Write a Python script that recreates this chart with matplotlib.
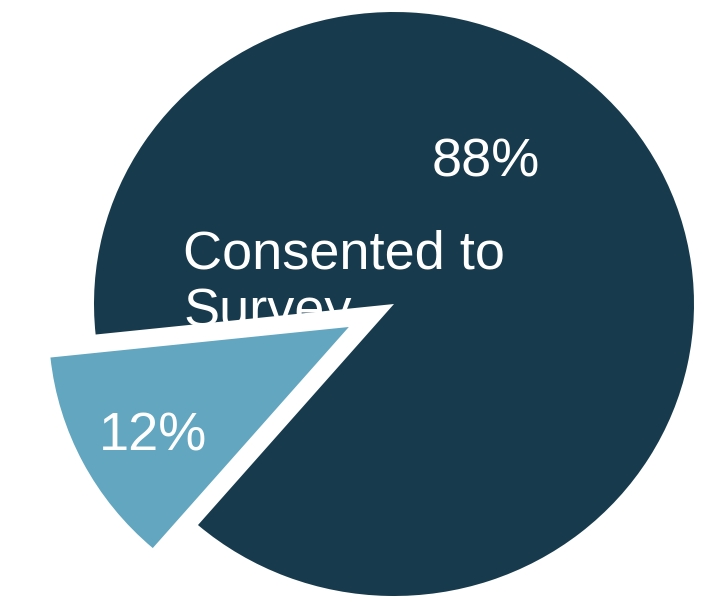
import numpy as np
import matplotlib.pyplot as plt

plt.rcParams['font.family'] = ['Liberation Sans', 'DejaVu Sans']

labels = ['', 'Consented to\nSurvey']
values = [12, 88]
pct_text = ['12%', '88%']
colors = ['#62a6c0', '#173b4d']
explode = [0.17, 0.0]


def main():
    fig = plt.figure(figsize=(7.03, 6.02), dpi=100)
    ax = fig.add_axes([0, 0, 1, 1])

    wedges, _ = ax.pie(values, colors=colors, explode=explode,
                       startangle=186, counterclock=True,
                       wedgeprops=dict(linewidth=0))

    # pie centre at pixel (394, 304); slightly wider than tall
    cx, cy = 394., 304.
    rx, ry = 300., 292.
    ax.set_xlim(-cx / rx, (703 - cx) / rx)
    ax.set_ylim(-(602 - cy) / ry, cy / ry)
    ax.set_aspect('auto')
    ax.axis('off')

    for w in wedges:
        w.set_zorder(0.2)
    wedges[0].set_zorder(1)

    # category label drawn on the big slice, under the exploded one
    ax.text(-0.703, 0.072, labels[1], color='white', fontsize=39,
            ha='left', va='center', linespacing=1.2, zorder=0.5)

    ax.text(0.307, 0.483, pct_text[1], color='white', fontsize=39,
            ha='center', va='center', zorder=3)
    ax.text(-0.803, -0.455, pct_text[0], color='white', fontsize=39,
            ha='center', va='center', zorder=3)

    fig.savefig('out.png', dpi=100)


if __name__ == '__main__':
    main()
